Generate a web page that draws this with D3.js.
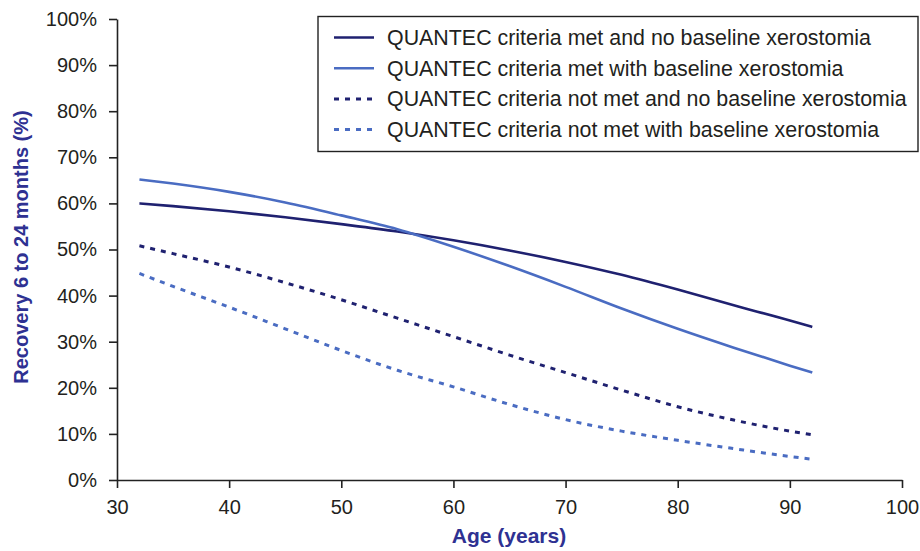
<!DOCTYPE html>
<html>
<head>
<meta charset="utf-8">
<script src="https://cdn.jsdelivr.net/npm/d3@7"></script>
<style>
  html, body { margin: 0; padding: 0; background: #fff; }
  svg { display: block; font-family: "Liberation Sans", Arial, sans-serif; }
</style>
</head>
<body>
<svg id="chart" width="920" height="551"></svg>
<script>
// ---- Data ----
const ages = [32, 35, 40, 45, 50, 55, 60, 65, 70, 75, 80, 85, 90, 92];
const metNoBaseline      = [60.0, 59.4, 58.3, 57.0, 55.5, 53.9, 52.0, 49.8, 47.3, 44.5, 41.3, 37.9, 34.6, 33.2];
const metWithBaseline    = [65.2, 64.3, 62.5, 60.2, 57.4, 54.4, 50.6, 46.4, 41.9, 37.2, 32.8, 28.7, 24.8, 23.3];
const notMetNoBaseline   = [50.8, 49.1, 46.2, 42.8, 39.1, 35.1, 31.1, 27.1, 23.3, 19.5, 15.9, 13.0, 10.6, 9.8];
const notMetWithBaseline = [44.8, 42.0, 37.5, 32.8, 28.1, 23.8, 20.2, 16.4, 13.1, 10.6, 8.6, 6.8, 5.1, 4.5];
const seriesNames = [
  "QUANTEC criteria met and no baseline xerostomia",
  "QUANTEC criteria met with baseline xerostomia",
  "QUANTEC criteria not met and no baseline xerostomia",
  "QUANTEC criteria not met with baseline xerostomia"
];
const xTicks = [30, 40, 50, 60, 70, 80, 90, 100];
const yTicks = [0, 10, 20, 30, 40, 50, 60, 70, 80, 90, 100];
const xTitle = "Age (years)";
const yTitle = "Recovery 6 to 24 months (%)";

// ---- Styles ----
const DARK = "#1f2170";
const LIGHT = "#4a6cc2";
const TITLE = "#2e3192";
const styles = [
  { color: DARK,  dash: null,  width: 2.6 },
  { color: LIGHT, dash: null,  width: 2.6 },
  { color: DARK,  dash: "5,6", width: 3 },
  { color: LIGHT, dash: "5,6", width: 3 }
];
const seriesValues = [metNoBaseline, metWithBaseline, notMetNoBaseline, notMetWithBaseline];

const svg = d3.select("#chart");
const x = d3.scaleLinear().domain([30, 100]).range([117, 902]);
const y = d3.scaleLinear().domain([0, 100]).range([480, 19]);

// Axes
const yAxis = d3.axisLeft(y).tickValues(yTicks).tickSize(8).tickSizeOuter(0).tickPadding(12)
  .tickFormat(d => d + "%");
const xAxis = d3.axisBottom(x).tickValues(xTicks).tickSize(8).tickSizeOuter(0).tickPadding(12);

const gy = svg.append("g").attr("transform", "translate(117,0)").call(yAxis);
const gx = svg.append("g").attr("transform", "translate(0,480)").call(xAxis);
[gx, gy].forEach(g => {
  g.selectAll("path, line").attr("stroke", "#222").attr("stroke-width", 1.6);
  g.selectAll("text").attr("fill", "#231f20").style("font-size", "20px")
    .style("font-family", "'Liberation Sans', Arial, sans-serif");
});

// Lines
const line = d3.line().x(d => x(d[0])).y(d => y(d[1])).curve(d3.curveMonotoneX);
seriesValues.forEach((vals, i) => {
  const pts = ages.map((a, j) => [a, vals[j]]);
  svg.append("path")
    .datum(pts)
    .attr("fill", "none")
    .attr("stroke", styles[i].color)
    .attr("stroke-width", styles[i].width)
    .attr("stroke-dasharray", styles[i].dash)
    .attr("d", line);
});

// Axis titles
svg.append("text")
  .attr("x", 509).attr("y", 543)
  .attr("text-anchor", "middle")
  .attr("fill", TITLE)
  .style("font-size", "21px").style("font-weight", "bold")
  .text(xTitle);
svg.append("text")
  .attr("transform", "translate(28,247) rotate(-90)")
  .attr("text-anchor", "middle")
  .attr("fill", TITLE)
  .style("font-size", "20px").style("font-weight", "bold")
  .text(yTitle);

// Legend
const lg = svg.append("g");
lg.append("rect")
  .attr("x", 318).attr("y", 16.5).attr("width", 600).attr("height", 135)
  .attr("fill", "#fff").attr("stroke", "#222").attr("stroke-width", 1.4);
seriesNames.forEach((name, i) => {
  const yy = 37.5 + i * 30.7;
  lg.append("line")
    .attr("x1", 334).attr("x2", 374).attr("y1", yy).attr("y2", yy)
    .attr("stroke", styles[i].color)
    .attr("stroke-width", styles[i].width)
    .attr("stroke-dasharray", styles[i].dash);
  lg.append("text")
    .attr("x", 387).attr("y", yy + 7.5)
    .attr("fill", "#231f20")
    .style("font-size", "21.4px")
    .text(name);
});
</script>
</body>
</html>
